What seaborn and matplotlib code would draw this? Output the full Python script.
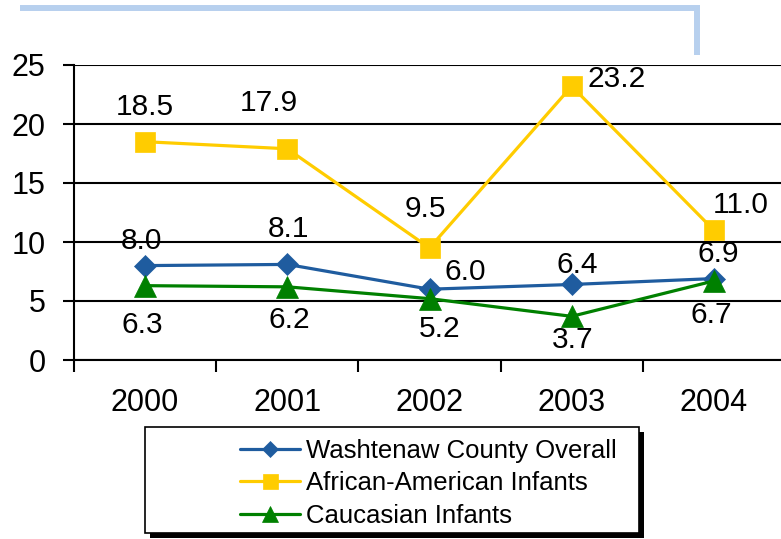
import numpy as np
import pandas as pd
import matplotlib
matplotlib.use("Agg")
import matplotlib.pyplot as plt
from matplotlib.lines import Line2D
from matplotlib.patches import Rectangle
from matplotlib.ticker import FixedLocator
import seaborn as sns

# ---- data ----
years = ["2000", "2001", "2002", "2003", "2004"]
overall = [8.0, 8.1, 6.0, 6.4, 6.9]
african_american = [18.5, 17.9, 9.5, 23.2, 11.0]
caucasian = [6.3, 6.2, 5.2, 3.7, 6.7]
series_names = ["Washtenaw County Overall", "African-American Infants", "Caucasian Infants"]
y_ticks = [0, 5, 10, 15, 20, 25]

# ---- style ----
sns.set_style("white")
plt.rcParams["font.family"] = ["Liberation Sans", "DejaVu Sans"]
plt.rcParams["text.color"] = "black"
plt.rcParams["xtick.color"] = "black"
plt.rcParams["ytick.color"] = "black"
plt.rcParams["xtick.labelcolor"] = "black"
plt.rcParams["ytick.labelcolor"] = "black"

W, H = 781, 539
fig = plt.figure(figsize=(W / 100, H / 100), dpi=100)
fig.patch.set_facecolor("white")

def fx(px):
    return px / W

def fy(py):
    return 1 - py / H

ax = fig.add_axes([fx(74), fy(360), fx(711), 295 / H])

colors = ["#1F5C9F", "#FFCC00", "#008000"]
markers = ["D", "s", "^"]
msizes = [10.8, 14.4, 15.5]
values = [overall, african_american, caucasian]
x = np.arange(len(years))

for vals, name, c, m, ms in zip(values, series_names, colors, markers, msizes):
    df = pd.DataFrame({"x": x, "y": vals})
    sns.lineplot(data=df, x="x", y="y", ax=ax, color=c, marker=m, markersize=ms,
                 markeredgecolor=c, markeredgewidth=0.5, linewidth=2.3,
                 label=name, legend=False, clip_on=False, zorder=3)

# data labels: offsets in pixels (dx right, dy down) of label centre from point
offsets = [
    [(-4, -28), (1, -38), (36, -20), (6, -22), (4, -28)],
    [(0, -38), (-18, -49), (-4, -42), (45, -10), (27, -28)],
    [(-3, 36), (2, 30), (10, 27), (1, 21), (-3, 31)],
]
for vals, offs in zip(values, offsets):
    for xi, v, (dx, dy) in zip(x, vals, offs):
        ax.annotate(f"{v:.1f}", (xi, v), xytext=(dx, -dy - 11),
                    textcoords="offset pixels", ha="center", va="baseline",
                    fontsize=21.5, color="black", zorder=5, annotation_clip=False)

ax.set_xlim(-0.5, len(years) - 0.5)
ax.set_ylim(0, 25)
ax.set_yticks(y_ticks)
ax.set_yticklabels([str(t) for t in y_ticks], fontsize=22)
ax.set_xticks(x)
ax.set_xticklabels(years, fontsize=22)
ax.xaxis.set_minor_locator(FixedLocator(np.arange(-0.5, len(years), 1.0)))
ax.tick_params(axis="x", which="major", length=0, pad=20, bottom=True)
ax.tick_params(axis="x", which="minor", length=8.6, width=1.5, color="black",
               direction="out", bottom=True)
ax.tick_params(axis="y", which="major", length=8, width=1.5, color="black",
               direction="out", pad=12.5, left=True)
ax.set_xlabel("")
ax.set_ylabel("")
ax.grid(axis="y", color="black", linewidth=1.5)
ax.grid(axis="x", visible=False)
ax.set_axisbelow(True)
for s in ["top", "right"]:
    ax.spines[s].set_visible(False)
ax.spines["left"].set_color("black")
ax.spines["left"].set_linewidth(1.5)
ax.spines["bottom"].set_color("black")
ax.spines["bottom"].set_linewidth(1.5)

# legend box with shadow
shadow = Rectangle((fx(150), fy(538)), fx(494), 106 / H, transform=fig.transFigure,
                   facecolor="black", edgecolor="none", zorder=1)
box = Rectangle((fx(145), fy(533)), fx(494), 106 / H, transform=fig.transFigure,
                facecolor="white", edgecolor="black", linewidth=1.2, zorder=2)
fig.add_artist(shadow)
fig.add_artist(box)

handles, labels = ax.get_legend_handles_labels()
leg = fig.legend(handles, labels, loc="upper left", bbox_to_anchor=(fx(240), fy(439)),
                 bbox_transform=fig.transFigure, frameon=False, fontsize=18.5,
                 handlelength=2.35, handletextpad=0.2, labelspacing=0.33,
                 borderpad=0, borderaxespad=0, markerscale=0.75)
leg.set_zorder(4)

# decorative light-blue line at top
fig.add_artist(Line2D([fx(20), fx(697), fx(697)], [fy(8), fy(8), fy(55)],
                      transform=fig.transFigure, color="#B7D0EE", linewidth=4.3,
                      solid_joinstyle="miter", solid_capstyle="butt"))

fig.savefig("out.png", dpi=100)
